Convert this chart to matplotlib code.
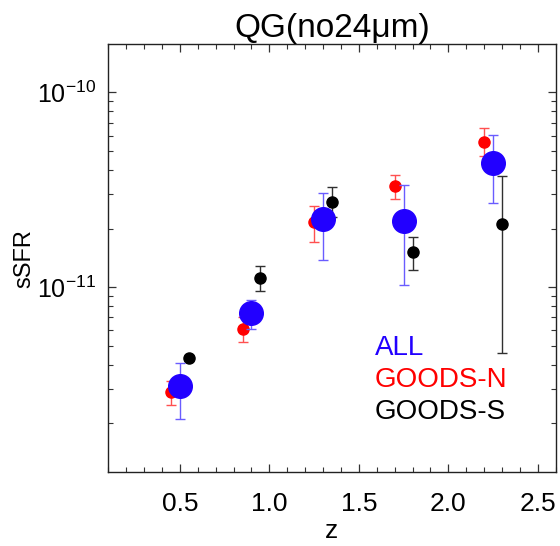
import matplotlib
matplotlib.use("Agg")
import matplotlib.pyplot as plt
from matplotlib.ticker import MultipleLocator, LogLocator, FixedLocator, NullFormatter
import numpy as np

plt.rcParams['font.family'] = ['Liberation Sans', 'DejaVu Sans']
plt.rcParams['mathtext.fontset'] = 'custom'
plt.rcParams['mathtext.rm'] = 'Liberation Sans'
plt.rcParams['mathtext.it'] = 'Liberation Sans'

# datos (z, sSFR, limite inferior, limite superior)
z_all = [0.50, 0.90, 1.30, 1.75, 2.25]
ssfr_all = [3.1e-12, 7.35e-12, 2.23e-11, 2.19e-11, 4.34e-11]
lo_all = [2.11e-12, 6.13e-12, 1.38e-11, 1.03e-11, 2.69e-11]
hi_all = [4.08e-12, 8.58e-12, 3.06e-11, 3.35e-11, 6.01e-11]

z_n = [0.45, 0.85, 1.25, 1.70, 2.20]
ssfr_n = [2.9e-12, 6.1e-12, 2.16e-11, 3.3e-11, 5.56e-11]
lo_n = [2.5e-12, 5.22e-12, 1.71e-11, 2.83e-11, 4.7e-11]
hi_n = [3.3e-12, 7.0e-12, 2.62e-11, 3.77e-11, 6.58e-11]

z_s = [0.55, 0.95, 1.35, 1.80, 2.30]
ssfr_s = [4.35e-12, 1.116e-11, 2.74e-11, 1.51e-11, 2.10e-11]
lo_s = [4.25e-12, 9.57e-12, 2.3e-11, 1.23e-11, 4.58e-12]
hi_s = [4.45e-12, 1.28e-11, 3.27e-11, 1.80e-11, 3.73e-11]

labels = ['ALL', 'GOODS-N', 'GOODS-S']
colors = ['#2200ff', '#ff0000', '#000000']
ecolors = ['#6a5cff', '#ff5050', '#303030']


def err(v, lo, hi):
    v = np.array(v)
    return [v - np.array(lo), np.array(hi) - v]


fig = plt.figure(figsize=(5.6, 5.46), dpi=100)
ax = fig.add_axes([0.1934, 0.135, 0.7989, 0.7839])

ax.errorbar(z_n, ssfr_n, yerr=err(ssfr_n, lo_n, hi_n), fmt='o', color=colors[1], mec=colors[1],
            ecolor=ecolors[1], ms=8, elinewidth=1, capsize=3.5, capthick=1, zorder=2)
ax.errorbar(z_s, ssfr_s, yerr=err(ssfr_s, lo_s, hi_s), fmt='o', color=colors[2], mec=colors[2],
            ecolor=ecolors[2], ms=8, elinewidth=1, capsize=3.5, capthick=1, zorder=2)
ax.errorbar(z_all, ssfr_all, yerr=err(ssfr_all, lo_all, hi_all), fmt='o', color=colors[0],
            mec=colors[0], ecolor=ecolors[0], ms=17, elinewidth=1, capsize=3.5, capthick=1,
            zorder=3)

ax.set_yscale('log')
ax.set_xlim(0.1, 2.6)
ax.set_ylim(10**-11.95, 10**-9.753)

ax.xaxis.set_major_locator(MultipleLocator(0.5))
ax.xaxis.set_minor_locator(MultipleLocator(0.1))
ax.xaxis.set_major_formatter(plt.FuncFormatter(lambda v, p: f"{v:.1f}"))
ax.yaxis.set_major_locator(FixedLocator([1e-11, 1e-10]))
ax.yaxis.set_minor_locator(LogLocator(base=10, subs=np.arange(2, 10)))
ax.yaxis.set_minor_formatter(NullFormatter())

ax.tick_params(which='both', direction='in', top=True, right=True, labelsize=19, color='#333333')
ax.tick_params(axis='x', which='major', pad=14)
ax.tick_params(axis='y', which='major', pad=9, labelsize=18)
ax.tick_params(which='major', length=6, width=0.9)
ax.tick_params(which='minor', length=3.5, width=0.8)
for s in ax.spines.values():
    s.set_linewidth(1.0)
    s.set_color('#222222')

ax.set_title('QG(no24\u03bcm)', fontsize=24, pad=5)
ax.set_xlabel('z', fontsize=19, labelpad=2)
ax.set_ylabel('sSFR', fontsize=17, labelpad=1)

for i, (lab, c) in enumerate(zip(labels, colors)):
    ax.text(0.5955, 0.29 - i * 0.075, lab, color=c, fontsize=20, transform=ax.transAxes,
            va='center', ha='left')

fig.savefig('out.png', dpi=100)
